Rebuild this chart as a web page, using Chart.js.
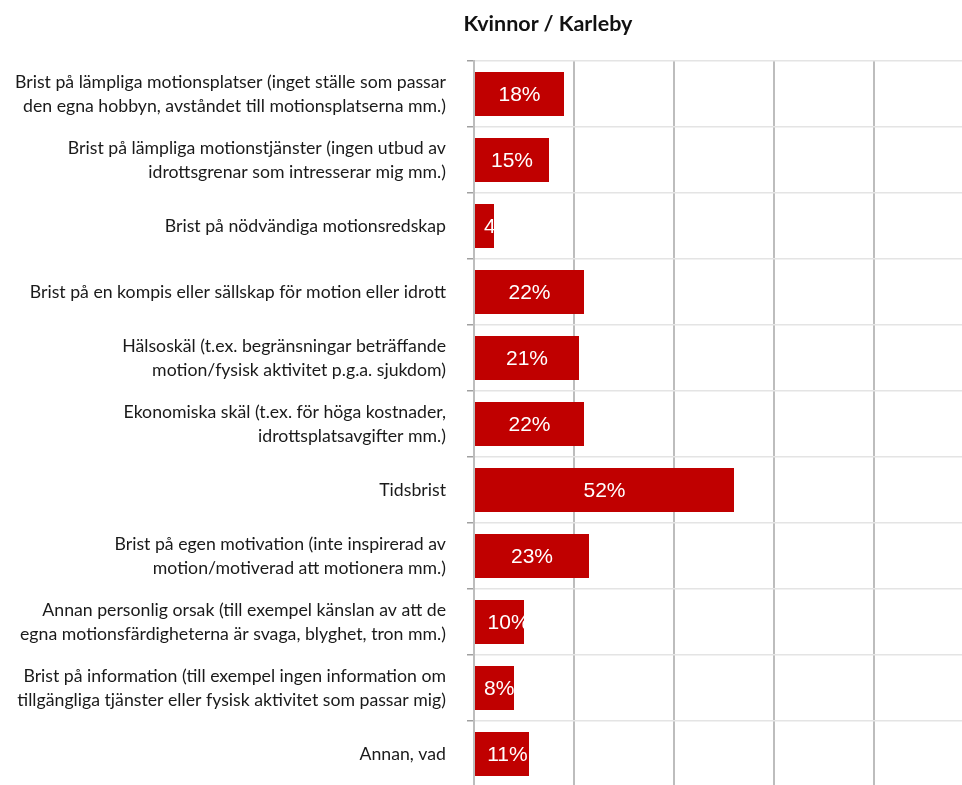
<!DOCTYPE html>
<html lang="sv">
<head>
<meta charset="utf-8">
<script src="https://cdn.jsdelivr.net/npm/chart.js@4.4.0/dist/chart.umd.min.js"></script>
<style>
  html, body { margin: 0; padding: 0; background: #fff; overflow: hidden; }
  #frame { position: relative; width: 962px; height: 785px; overflow: hidden; }
  #wrap { position: absolute; left: 0; top: 0; width: 1000px; height: 800px; }
  #title {
    position: absolute; left: 398px; width: 300px; top: 10px;
    text-align: center; font: bold 21.5px Lato, sans-serif; color: #111;
  }
</style>
</head>
<body>
<div id="frame">
  <div id="wrap"><canvas id="chart" width="1000" height="800"></canvas></div>
  <div id="title">Kvinnor / Karleby</div>
</div>
<script>
// Kategorier (flera rader per etikett)
const labels = [
    ['Brist på lämpliga motionsplatser (inget ställe som passar', 'den egna hobbyn, avståndet till motionsplatserna mm.)'],
    ['Brist på lämpliga motionstjänster (ingen utbud av', 'idrottsgrenar som intresserar mig mm.)'],
    'Brist på nödvändiga motionsredskap',
    'Brist på en kompis eller sällskap för motion eller idrott',
    ['Hälsoskäl (t.ex. begränsningar beträffande', 'motion/fysisk aktivitet p.g.a. sjukdom)'],
    ['Ekonomiska skäl (t.ex. för höga kostnader,', 'idrottsplatsavgifter mm.)'],
    'Tidsbrist',
    ['Brist på egen motivation (inte inspirerad av', 'motion/motiverad att motionera mm.)'],
    ['Annan personlig orsak (till exempel känslan av att de', 'egna motionsfärdigheterna är svaga, blyghet, tron mm.)'],
    ['Brist på information (till exempel ingen information om', 'tillgängliga tjänster eller fysisk aktivitet som passar mig)'],
    'Annan, vad'
];

// Andel (%)
const values = [18, 15, 4, 22, 21, 22, 52, 23, 10, 8, 11];

// x-axelns gridlinjer
const xTicks = [0, 20, 40, 60, 80, 100];

const BAR_COLOR = '#c00000';

// Etiketter i staplarna, klippta till stapelns yta
const barLabels = {
    id: 'barLabels',
    afterDatasetsDraw(chart) {
        const ctx = chart.ctx;
        const meta = chart.getDatasetMeta(0);
        meta.data.forEach((bar, i) => {
            const p = bar.getProps(['x', 'y', 'base', 'height'], true);
            const left = Math.min(p.x, p.base);
            const w = Math.abs(p.x - p.base);
            const text = values[i] + '%';
            ctx.save();
            ctx.font = '21px "Liberation Sans", Arial, sans-serif';
            const tw = ctx.measureText(text).width;
            // smala staplar: texten skjuts åt höger och klipps
            const start = Math.max(left + w / 2 - tw / 2, left + tw * 0.3);
            ctx.beginPath();
            ctx.rect(left, p.y - p.height / 2, w, p.height);
            ctx.clip();
            ctx.fillStyle = '#fff';
            ctx.textAlign = 'left';
            ctx.textBaseline = 'middle';
            ctx.fillText(text, start, p.y + 1);
            ctx.restore();
        });
    }
};

new Chart(document.getElementById('chart'), {
    type: 'bar',
    data: {
        labels: labels,
        datasets: [{
            data: values,
            backgroundColor: BAR_COLOR,
            borderWidth: 0,
            barPercentage: 0.667,
            categoryPercentage: 1
        }]
    },
    options: {
        indexAxis: 'y',
        responsive: false,
        animation: false,
        events: [],
        layout: { padding: { top: 61, right: 26, bottom: 13, left: 0 } },
        plugins: {
            legend: { display: false },
            tooltip: { enabled: false }
        },
        scales: {
            x: {
                min: 0,
                max: 100,
                afterBuildTicks: axis => {
                    axis.ticks = xTicks.map(v => ({ value: v }));
                },
                afterFit: scale => {
                    scale.height = 0;
                    scale.paddingLeft = 0;
                    scale.paddingRight = 0;
                },
                ticks: { display: false },
                grid: { color: '#bdbdbd', lineWidth: 2, drawTicks: false },
                border: { display: false }
            },
            y: {
                afterFit: scale => {
                    scale.width = 474;
                    scale.paddingTop = 0;
                    scale.paddingBottom = 0;
                },
                ticks: {
                    color: '#1a1a1a',
                    font: { family: 'Lato, sans-serif', size: 17.7, lineHeight: 1.36 },
                    padding: 21
                },
                grid: { color: '#e4e4e4', lineWidth: 1.5, tickLength: 7, tickColor: '#a0a0a0', offset: true },
                border: { display: true, color: '#bdbdbd', width: 2 }
            }
        }
    },
    plugins: [barLabels]
});
</script>
</body>
</html>
